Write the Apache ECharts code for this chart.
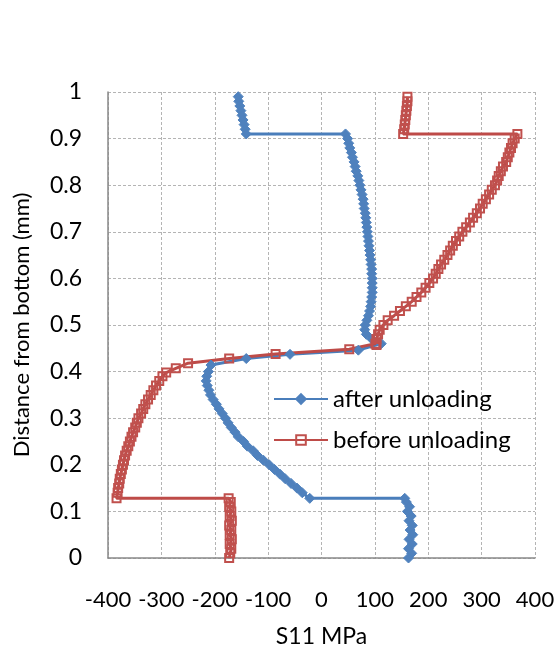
<!DOCTYPE html>
<html>
<head>
<meta charset="utf-8">
<script src="https://cdn.jsdelivr.net/npm/echarts@6/dist/echarts.min.js"></script>
<style>html,body{margin:0;padding:0;background:#fff}#c{width:555px;height:649px}</style>
</head>
<body>
<div id="c"></div>
<script>
// after unloading (blue): S11 (MPa) and distance from bottom (mm)
const afterX = [-156,-155,-153,-151,-149,-147,-145,-143,-141,
  45,49,51,53,56,58,61,63,65,68,70,72,74,76,78,79,80,82,83,84,85,86,87,88,89,90,91,92,93,94,94,95,95,95,95,94,93,92,90,88,85,82,81,84,94,112,
  69,-59,-141,-207,-212,-215,-216,-214,-211,-208,-203,-197,-192,-186,-180,-175,-169,-162,-156,-146,-139,-128,-120,-109,-98,-88,-78,-68,-57,-46,-36,-22,
  156,159,165,161,168,164,170,166,171,164,170,163,169,163];
const afterY = [0.99,0.98,0.97,0.96,0.95,0.94,0.93,0.92,0.91,
  0.91,0.90,0.89,0.88,0.87,0.86,0.85,0.84,0.83,0.82,0.81,0.80,0.79,0.78,0.77,0.76,0.75,0.74,0.73,0.72,0.71,0.70,0.69,0.68,0.67,0.66,0.65,0.64,0.63,0.62,0.61,0.60,0.59,0.58,0.57,0.56,0.55,0.54,0.53,0.52,0.51,0.50,0.49,0.48,0.47,0.46,
  0.446,0.437,0.428,0.414,0.40,0.39,0.38,0.37,0.36,0.35,0.34,0.33,0.32,0.31,0.30,0.29,0.28,0.27,0.26,0.25,0.24,0.23,0.22,0.21,0.20,0.19,0.18,0.17,0.16,0.15,0.14,0.128,
  0.128,0.12,0.11,0.10,0.09,0.08,0.07,0.06,0.05,0.04,0.03,0.02,0.01,0.00];

// before unloading (red)
const beforeX = [161,161,160,159,158,157,156,155,153,
  367,362,358,355,352,349,346,340,336,332,329,325,319,314,308,302,297,291,284,278,271,264,258,252,246,241,236,230,224,219,214,209,202,195,187,178,169,158,147,136,124,116,109,106,103,101,103,
  52,-86,-173,-250,-273,-291,-298,-304,-310,-315,-320,-325,-330,-334,-338,-343,-346,-349,-353,-356,-359,-362,-365,-368,-370,-372,-374,-376,-378,-379,-381,-382,-384,
  -174,-170,-173,-169,-172,-168,-173,-169,-172,-168,-172,-169,-171,-173];
const beforeY = [0.99,0.98,0.97,0.96,0.95,0.94,0.93,0.92,0.91,
  0.91,0.90,0.89,0.88,0.87,0.86,0.85,0.84,0.83,0.82,0.81,0.80,0.79,0.78,0.77,0.76,0.75,0.74,0.73,0.72,0.71,0.70,0.69,0.68,0.67,0.66,0.65,0.64,0.63,0.62,0.61,0.60,0.59,0.58,0.57,0.56,0.55,0.54,0.53,0.52,0.51,0.50,0.49,0.48,0.47,0.46,0.457,
  0.448,0.438,0.428,0.418,0.407,0.398,0.39,0.38,0.37,0.36,0.35,0.34,0.33,0.32,0.31,0.30,0.29,0.28,0.27,0.26,0.25,0.24,0.23,0.22,0.21,0.20,0.19,0.18,0.17,0.16,0.15,0.14,0.128,
  0.128,0.12,0.11,0.10,0.09,0.08,0.07,0.06,0.05,0.04,0.03,0.02,0.01,0.00];

const seriesNames = ['after unloading', 'before unloading'];
const xTitle = 'S11 MPa';
const yTitle = 'Distance from bottom (mm)';

const pairs = (xs, ys) => xs.map((x, i) => [x, ys[i]]);
const FONT = 'Lato';
const grid = {color:'#b4b4b4', width:1, type:[3,2]};

const chart = echarts.init(document.getElementById('c'), null, {renderer:'canvas'});
chart.setOption({
  animation: false,
  textStyle: {fontFamily: FONT, color:'#000'},
  grid: {left:108, right:20, top:92, bottom:91, containLabel:false, outerBoundsMode:'none'},
  xAxis: {
    type:'value', min:-400, max:400, interval:100,
    name: xTitle, nameLocation:'middle', nameGap:67,
    nameTextStyle:{fontFamily:FONT, fontSize:23, color:'#000'},
    axisLine:{show:true, onZero:false, lineStyle:{color:'#898989', width:1.5}},
    axisTick:{show:false},
    axisLabel:{fontFamily:FONT, fontSize:22, color:'#000', margin:31},
    splitLine:{show:true, lineStyle:grid}
  },
  yAxis: {
    type:'value', min:0, max:1, interval:0.1,
    name: yTitle, nameLocation:'middle', nameGap:75,
    nameTextStyle:{fontFamily:FONT, fontSize:22, color:'#000'},
    axisLine:{show:true, onZero:false, lineStyle:{color:'#898989', width:1.5}},
    axisTick:{show:false},
    axisLabel:{fontFamily:FONT, fontSize:23, color:'#000', margin:26},
    splitLine:{show:true, lineStyle:grid}
  },
  legend: {
    orient:'vertical', left:273, top:387, padding:0, itemWidth:54, itemHeight:12, itemGap:17,
    textStyle:{fontFamily:FONT, fontSize:24, color:'#000'},
    data: seriesNames
  },
  series: [
    {
      name: seriesNames[0], type:'line', data: pairs(afterX, afterY),
      showAllSymbol:true, symbol:'diamond', symbolSize:10,
      lineStyle:{color:'#4A7EBB', width:3},
      itemStyle:{color:'#4F81BD', borderColor:'#4F81BD', borderWidth:1}
    },
    {
      name: seriesNames[1], type:'line', data: pairs(beforeX, beforeY),
      showAllSymbol:true, symbol:'rect', symbolSize:8,
      lineStyle:{color:'#BE4B48', width:3},
      itemStyle:{color:'rgba(255,255,255,0)', borderColor:'#C0504D', borderWidth:2}
    }
  ]
});
</script>
</body>
</html>
